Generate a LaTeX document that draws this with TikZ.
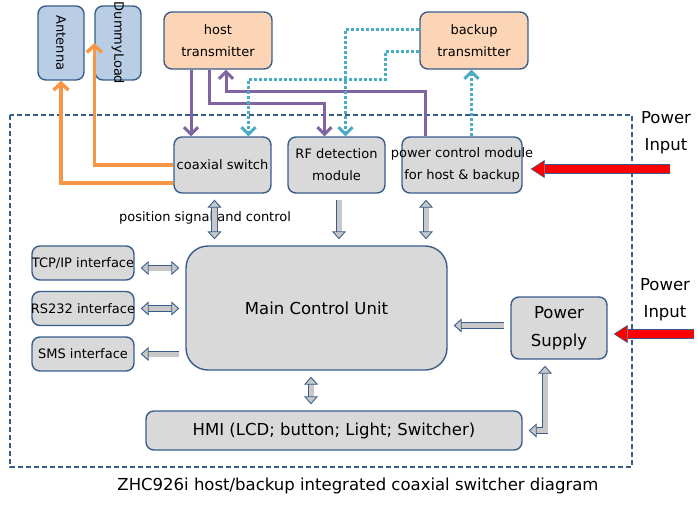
\documentclass[tikz,border=0pt]{standalone}
\usepackage{fontspec}
\setmainfont{DejaVu Sans}
\usetikzlibrary{arrows.meta}
\definecolor{boxblue}{RGB}{56,93,138}
\definecolor{boxgray}{RGB}{217,217,217}
\definecolor{loadblue}{RGB}{185,205,229}
\definecolor{txpeach}{RGB}{251,213,181}
\definecolor{coaxorange}{RGB}{247,150,70}
\definecolor{rfpurple}{RGB}{128,100,162}
\definecolor{ctrlcyan}{RGB}{75,172,198}
\definecolor{arrowgray}{RGB}{200,200,200}

\begin{document}
\begin{tikzpicture}[x=1pt, y=-1pt,
  unit/.style = {draw=boxblue, line width=1.4pt, fill=boxgray, rounded corners=8pt, inner xsep=-15pt, inner ysep=0pt, align=center, font=\fontsize{13}{22}\selectfont},
  loadbox/.style = {unit, fill=loadblue, rotate=-90, minimum width=74pt, minimum height=46pt},
  txbox/.style = {unit, fill=txpeach, minimum width=108pt, minimum height=57pt},
  modbox/.style = {unit, minimum height=56pt},
  portbox/.style = {unit, minimum width=102pt, minimum height=34pt},
  bigbox/.style = {unit, font=\fontsize{16.5}{28}\selectfont},
  coaxline/.style = {coaxorange, line width=3.5pt, -{Straight Barb[length=7pt, width=15pt]}},
  rfline/.style = {rfpurple, line width=3pt, -{Straight Barb[length=7pt, width=14pt]}},
  ctrlline/.style = {ctrlcyan, line width=3pt, dash pattern=on 3pt off 2pt, -{Straight Barb[length=7pt, width=14pt]}},
  blockarrow/.style = {draw=boxblue, line width=0.9pt, double=arrowgray, double distance=5pt, shorten <=6pt, shorten >=6pt, -{Triangle[fill=arrowgray, length=8pt, width=14pt]}},
  dblockarrow/.style = {blockarrow, {Triangle[fill=arrowgray, length=8pt, width=14pt]}-{Triangle[fill=arrowgray, length=8pt, width=14pt]}},
  powerarrow/.style = {draw=boxblue, line width=0.6pt, double=red, double distance=8pt, -{Triangle[fill=red, length=14pt, width=18pt]}}
]
\useasboundingbox (0,0) rectangle (698,504);
\draw [boxblue, line width=1.2pt, dash pattern=on 5pt off 3pt] (10,115) rectangle (632,467);

\node [loadbox] (antenna) at (61,43) {Antenna};
\node [loadbox] (dummy) at (118,43) {DummyLoad};
\node [txbox] (host) at (218,40.5) {host\\transmitter};
\node [txbox] (backup) at (474,40.5) {backup\\transmitter};
\node [modbox, minimum width=97pt] (coax) at (222.5,165) {coaxial switch};
\node [modbox, minimum width=97pt] (rf) at (336.5,165) {RF detection\\module};
\node [modbox, minimum width=120pt] (pc) at (462,165) {power control module\\for host \& backup};
\node [bigbox, rounded corners=22pt, minimum width=261pt, minimum height=124pt] (main) at (316.5,308) {Main Control Unit};
\node [portbox] (tcp) at (83,263) {TCP/IP interface};
\node [portbox] (rs) at (83,308.5) {RS232 interface};
\node [portbox] (sms) at (83,354) {SMS interface};
\node [bigbox, minimum width=96pt, minimum height=62pt] (ps) at (559,328) {Power\\Supply};
\node [bigbox, minimum width=376pt, minimum height=39pt] (hmi) at (334,430.5) {HMI (LCD; button; Light; Switcher)};

\node [font=\fontsize{13}{22}\selectfont] (possig) at (205,218) {position signal and control};
\node [align=center, font=\fontsize{16.5}{27}\selectfont] (pin1) at (666,133) {Power\\Input};
\node [align=center, font=\fontsize{16.5}{27}\selectfont] (pin2) at (665,300) {Power\\Input};
\node [font=\fontsize{16.5}{20}\selectfont] (caption) at (358,486) {ZHC926i host/backup integrated coaxial switcher diagram};

\draw [coaxline] ([yshift=-18pt]coax.west) -| (antenna.east);
\draw [coaxline] (coax.west) -| (dummy.south);

\draw [rfline] ([xshift=-27pt]host.south) -- ([xshift=-27pt]host.south |- coax.north);
\draw [rfline] ([xshift=-9pt]host.south) -- ++(0,34) -| ([xshift=-12pt]rf.north);
\draw [rfline] ([xshift=-37pt]pc.north) -- ++(0,-45) -| ([xshift=8pt]host.south);

\draw [ctrlline] ([yshift=11pt]backup.west) -| ([xshift=9pt]rf.north);
\draw [ctrlline] ([yshift=-11pt]backup.west) -- ++(-34,0) -- ++(0,28) -| ([xshift=26pt]coax.north);
\draw [ctrlline] ([xshift=9.5pt]pc.north) -- ([xshift=9.5pt]pc.north |- backup.south);

\draw [dblockarrow] ([xshift=-8pt]coax.south) -- ([xshift=-8pt]coax.south |- main.north);
\draw [blockarrow] ([xshift=2.5pt]rf.south) -- ([xshift=2.5pt]rf.south |- main.north);
\draw [dblockarrow] ([xshift=-36pt]pc.south) -- ([xshift=-36pt]pc.south |- main.north);
\draw [dblockarrow] ([yshift=-5pt]tcp.east) -- ([yshift=-5pt]tcp.east -| main.west);
\draw [dblockarrow] (rs.east) -- (rs.east -| main.west);
\draw [blockarrow] (sms.east -| main.west) -- (sms.east);
\draw [blockarrow] ([yshift=2.5pt]ps.west) -- ([yshift=2.5pt]ps.west -| main.east);
\draw [dblockarrow] ([xshift=-5.5pt]main.south) -- ([xshift=-5.5pt]main.south |- hmi.north);
\draw [dblockarrow] ([xshift=-14pt]ps.south) |- (hmi.east);

\coordinate (feed1) at (670,169);
\coordinate (feed2) at (694,334);
\draw [powerarrow, shorten >=8pt] (feed1) -- (feed1 -| pc.east);
\draw [powerarrow, shorten >=6pt] (feed2) -- (feed2 -| ps.east);
\end{tikzpicture}
\end{document}
